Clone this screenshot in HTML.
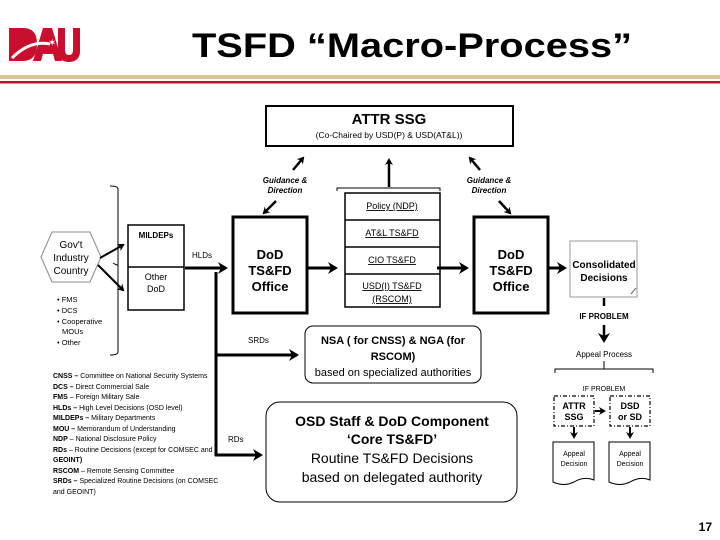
<!DOCTYPE html>
<html><head><style>
body{margin:0;background:#fff}
svg{display:block;font-family:"Liberation Sans",sans-serif}
</style></head><body>
<svg width="720" height="540" viewBox="0 0 720 540" xmlns="http://www.w3.org/2000/svg">
<defs>
<marker id="ah" markerWidth="8" markerHeight="8" refX="5" refY="4" orient="auto" markerUnits="userSpaceOnUse"><path d="M0,0 L7,4 L0,8 L2,4 Z" fill="#000"/></marker>
<marker id="ahb" markerWidth="12" markerHeight="12" refX="8" refY="6" orient="auto" markerUnits="userSpaceOnUse"><path d="M0,0 L10,6 L0,12 L3,6 Z" fill="#000"/></marker>
</defs>
<!-- logo -->
<g fill="#c8102e">
<path d="M9,28 h14 c10,0 14,6 14,16 c0,10 -4,17 -14,17 h-14z"/>
<path d="M33,61 l10,-33 h9 l10,33 h-7 l-2,-7 h-10 l-2,7z" />
<path d="M58,28 h7 v22 c0,4 2,5 4,5 c2,0 4,-1 4,-5 v-22 h7 v23 c0,8 -5,11 -11,11 c-6,0 -11,-3 -11,-11z"/>
</g>
<path d="M12,58 Q30,40 50,44" stroke="#fff" stroke-width="3" fill="none"/>
<text x="48" y="46" font-size="10" fill="#fff">✶</text>
<text x="412" y="57" font-size="34" font-weight="bold" text-anchor="middle" textLength="440" lengthAdjust="spacingAndGlyphs">TSFD “Macro-Process”</text>
<rect x="0" y="75" width="720" height="4" fill="#dcc397"/>
<rect x="0" y="81" width="720" height="2.5" fill="#b5192b"/>

<!-- ATTR SSG -->
<rect x="266" y="106" width="247" height="40" fill="#fff" stroke="#000" stroke-width="2"/>
<text x="389" y="124" font-size="15" font-weight="bold" text-anchor="middle">ATTR SSG</text>
<text x="389" y="138" font-size="8.5" text-anchor="middle">(Co-Chaired by USD(P) &amp; USD(AT&amp;L))</text>
<g stroke="#000" stroke-width="2.5" fill="none">
<line x1="293" y1="170" x2="303" y2="158" marker-end="url(#ah)"/>
<line x1="389" y1="187" x2="389" y2="160" marker-end="url(#ah)"/>
<line x1="480" y1="170" x2="470" y2="158" marker-end="url(#ah)"/>
<line x1="276" y1="201" x2="264" y2="213" marker-end="url(#ah)"/>
<line x1="499" y1="201" x2="510" y2="213" marker-end="url(#ah)"/>
</g>
<g font-size="8" font-style="italic" font-weight="bold" text-anchor="middle">
<text x="285" y="183">Guidance &amp;</text><text x="285" y="193">Direction</text>
<text x="489" y="183">Guidance &amp;</text><text x="489" y="193">Direction</text>
</g>
<path d="M337,191 v-3 h103 v3" fill="none" stroke="#000" stroke-width="1"/>
<!-- stack -->
<rect x="345" y="193" width="95" height="114" fill="#fff" stroke="#000" stroke-width="1.5"/>
<g stroke="#000" stroke-width="1.5"><line x1="345" y1="220" x2="440" y2="220"/><line x1="345" y1="247" x2="440" y2="247"/><line x1="345" y1="274" x2="440" y2="274"/></g>
<g font-size="9" text-anchor="middle" text-decoration="underline">
<text x="392" y="209">Policy (NDP)</text>
<text x="392" y="236">AT&amp;L TS&amp;FD</text>
<text x="392" y="263">CIO TS&amp;FD</text>
<text x="392" y="289">USD(I) TS&amp;FD</text>
<text x="392" y="302">(RSCOM)</text>
</g>
<!-- DoD boxes -->
<rect x="233" y="217" width="74" height="96" fill="#fff" stroke="#000" stroke-width="3"/>
<rect x="474" y="217" width="74" height="96" fill="#fff" stroke="#000" stroke-width="3"/>
<g font-size="13" font-weight="bold" text-anchor="middle">
<text x="270" y="259">DoD</text><text x="270" y="275">TS&amp;FD</text><text x="270" y="291">Office</text>
<text x="511" y="259">DoD</text><text x="511" y="275">TS&amp;FD</text><text x="511" y="291">Office</text>
</g>
<g stroke="#000" stroke-width="3" fill="none">
<line x1="308" y1="268" x2="336" y2="268" marker-end="url(#ahb)"/>
<line x1="437" y1="268" x2="467" y2="268" marker-end="url(#ahb)"/>
<line x1="549" y1="268" x2="565" y2="268" marker-end="url(#ahb)"/>
</g>
<!-- consolidated -->
<rect x="570" y="241" width="67" height="56" fill="#fff" stroke="#999" stroke-width="1"/>
<path d="M631,294 l5,-6" stroke="#666" stroke-width="1"/>
<text x="604" y="268" font-size="10" font-weight="bold" text-anchor="middle">Consolidated</text>
<text x="604" y="281" font-size="10" font-weight="bold" text-anchor="middle">Decisions</text>
<line x1="604" y1="298" x2="604" y2="306" stroke="#000" stroke-width="2.5"/>
<text x="604" y="319" font-size="8" font-weight="bold" text-anchor="middle">IF PROBLEM</text>
<line x1="604" y1="325" x2="604" y2="341" stroke="#000" stroke-width="2.5" marker-end="url(#ahb)"/>
<text x="604" y="357" font-size="8" text-anchor="middle">Appeal Process</text>
<path d="M555,373 v-4 h98 v4 M604,369 v-8" fill="none" stroke="#000" stroke-width="1"/>
<text x="604" y="391" font-size="7" text-anchor="middle">IF PROBLEM</text>
<g fill="#fff" stroke="#000" stroke-width="1.2" stroke-dasharray="4,2,1,2">
<rect x="554" y="396" width="40" height="30"/><rect x="610" y="396" width="40" height="30"/>
</g>
<g font-size="9" font-weight="bold" text-anchor="middle">
<text x="574" y="409">ATTR</text><text x="574" y="420">SSG</text>
<text x="630" y="409">DSD</text><text x="630" y="420">or SD</text>
</g>
<g stroke="#000" stroke-width="2" fill="none">
<line x1="595" y1="411" x2="604" y2="411" marker-end="url(#ah)"/>
<line x1="574" y1="427" x2="574" y2="437" marker-end="url(#ah)"/>
<line x1="630" y1="427" x2="630" y2="437" marker-end="url(#ah)"/>
</g>
<g fill="#fff" stroke="#000" stroke-width="1">
<path d="M553,442 h41 v38 q-10,-4 -20,2 q-10,5 -21,0 z"/>
<path d="M609,442 h41 v38 q-10,-4 -20,2 q-10,5 -21,0 z"/>
</g>
<g font-size="7" text-anchor="middle">
<text x="574" y="456">Appeal</text><text x="574" y="466">Decision</text>
<text x="630" y="456">Appeal</text><text x="630" y="466">Decision</text>
</g>
<!-- left side -->
<path d="M41,257 L52,232 H90 L101,257 L90,282 H52 Z" fill="#fff" stroke="#888" stroke-width="1"/>
<g font-size="10" text-anchor="middle"><text x="71" y="248">Gov't</text><text x="71" y="261">Industry</text><text x="71" y="274">Country</text></g>
<path d="M110,186 q8,0 8,3 V352 q0,3 -8,3" fill="none" stroke="#000" stroke-width="1"/>
<path d="M118,265 q-2,0 -5,-2" fill="none" stroke="#000" stroke-width="1"/>
<g stroke="#000" stroke-width="2" fill="none">
<line x1="100" y1="258" x2="123" y2="245" marker-end="url(#ah)"/>
<line x1="98" y1="265" x2="123" y2="290" marker-end="url(#ah)"/>
</g>
<rect x="128" y="225" width="56" height="85" fill="#fff" stroke="#000" stroke-width="1.5"/>
<line x1="128" y1="267" x2="184" y2="267" stroke="#000" stroke-width="1.5"/>
<text x="156" y="238" font-size="8" font-weight="bold" text-anchor="middle">MILDEPs</text>
<text x="156" y="280" font-size="9" text-anchor="middle">Other</text>
<text x="156" y="292" font-size="9" text-anchor="middle">DoD</text>
<text x="192" y="258" font-size="8">HLDs</text>
<g stroke="#000" stroke-width="3" fill="none">
<line x1="185" y1="268" x2="226" y2="268" marker-end="url(#ahb)"/>
<polyline points="216,272 216,456"/>
<line x1="215" y1="355" x2="297" y2="355" marker-end="url(#ahb)"/>
<line x1="215" y1="455" x2="261" y2="455" marker-end="url(#ahb)"/>
</g>
<text x="248" y="343" font-size="8">SRDs</text>
<text x="228" y="442" font-size="8">RDs</text>
<rect x="305" y="326" width="176" height="57" rx="8" fill="#fff" stroke="#000" stroke-width="1"/>
<g font-size="11" text-anchor="middle">
<text x="393" y="344" font-weight="bold">NSA ( for CNSS) &amp; NGA (for</text>
<text x="393" y="360" font-weight="bold">RSCOM)</text>
<text x="393" y="376">based on specialized authorities</text>
</g>
<rect x="266" y="402" width="251" height="100" rx="14" fill="#fff" stroke="#000" stroke-width="1"/>
<g font-size="14" text-anchor="middle">
<text x="392" y="426" font-weight="bold">OSD Staff &amp; DoD Component</text>
<text x="392" y="444" font-weight="bold">‘Core TS&amp;FD’</text>
<text x="392" y="463">Routine TS&amp;FD Decisions</text>
<text x="392" y="482">based on delegated authority</text>
</g>
<g font-size="7.5">
<text x="57" y="302">• FMS</text><text x="57" y="313">• DCS</text><text x="57" y="324">• Cooperative</text><text x="62" y="334">MOUs</text><text x="57" y="345">• Other</text>
</g>
<g font-size="7">
<text x="53" y="378"><tspan font-weight="bold">CNSS –</tspan> Committee on National Security Systems</text>
<text x="53" y="389"><tspan font-weight="bold">DCS –</tspan> Direct Commercial Sale</text>
<text x="53" y="399"><tspan font-weight="bold">FMS</tspan> – Foreign Military Sale</text>
<text x="53" y="410"><tspan font-weight="bold">HLDs –</tspan> High Level Decisions (OSD level)</text>
<text x="53" y="420"><tspan font-weight="bold">MILDEPs –</tspan> Military Departments</text>
<text x="53" y="431"><tspan font-weight="bold">MOU –</tspan> Memorandum of Understanding</text>
<text x="53" y="441"><tspan font-weight="bold">NDP</tspan> – National Disclosure Policy</text>
<text x="53" y="452"><tspan font-weight="bold">RDs</tspan> – Routine Decisions (except for COMSEC and</text>
<text x="53" y="462"><tspan font-weight="bold">GEOINT)</tspan></text>
<text x="53" y="473"><tspan font-weight="bold">RSCOM</tspan> – Remote Sensing Committee</text>
<text x="53" y="483"><tspan font-weight="bold">SRDs –</tspan> Specialized Routine Decisions (on COMSEC</text>
<text x="53" y="494">and GEOINT)</text>
</g>
<text x="712" y="531" font-size="12" font-weight="bold" text-anchor="end">17</text>
</svg>
</body></html>
